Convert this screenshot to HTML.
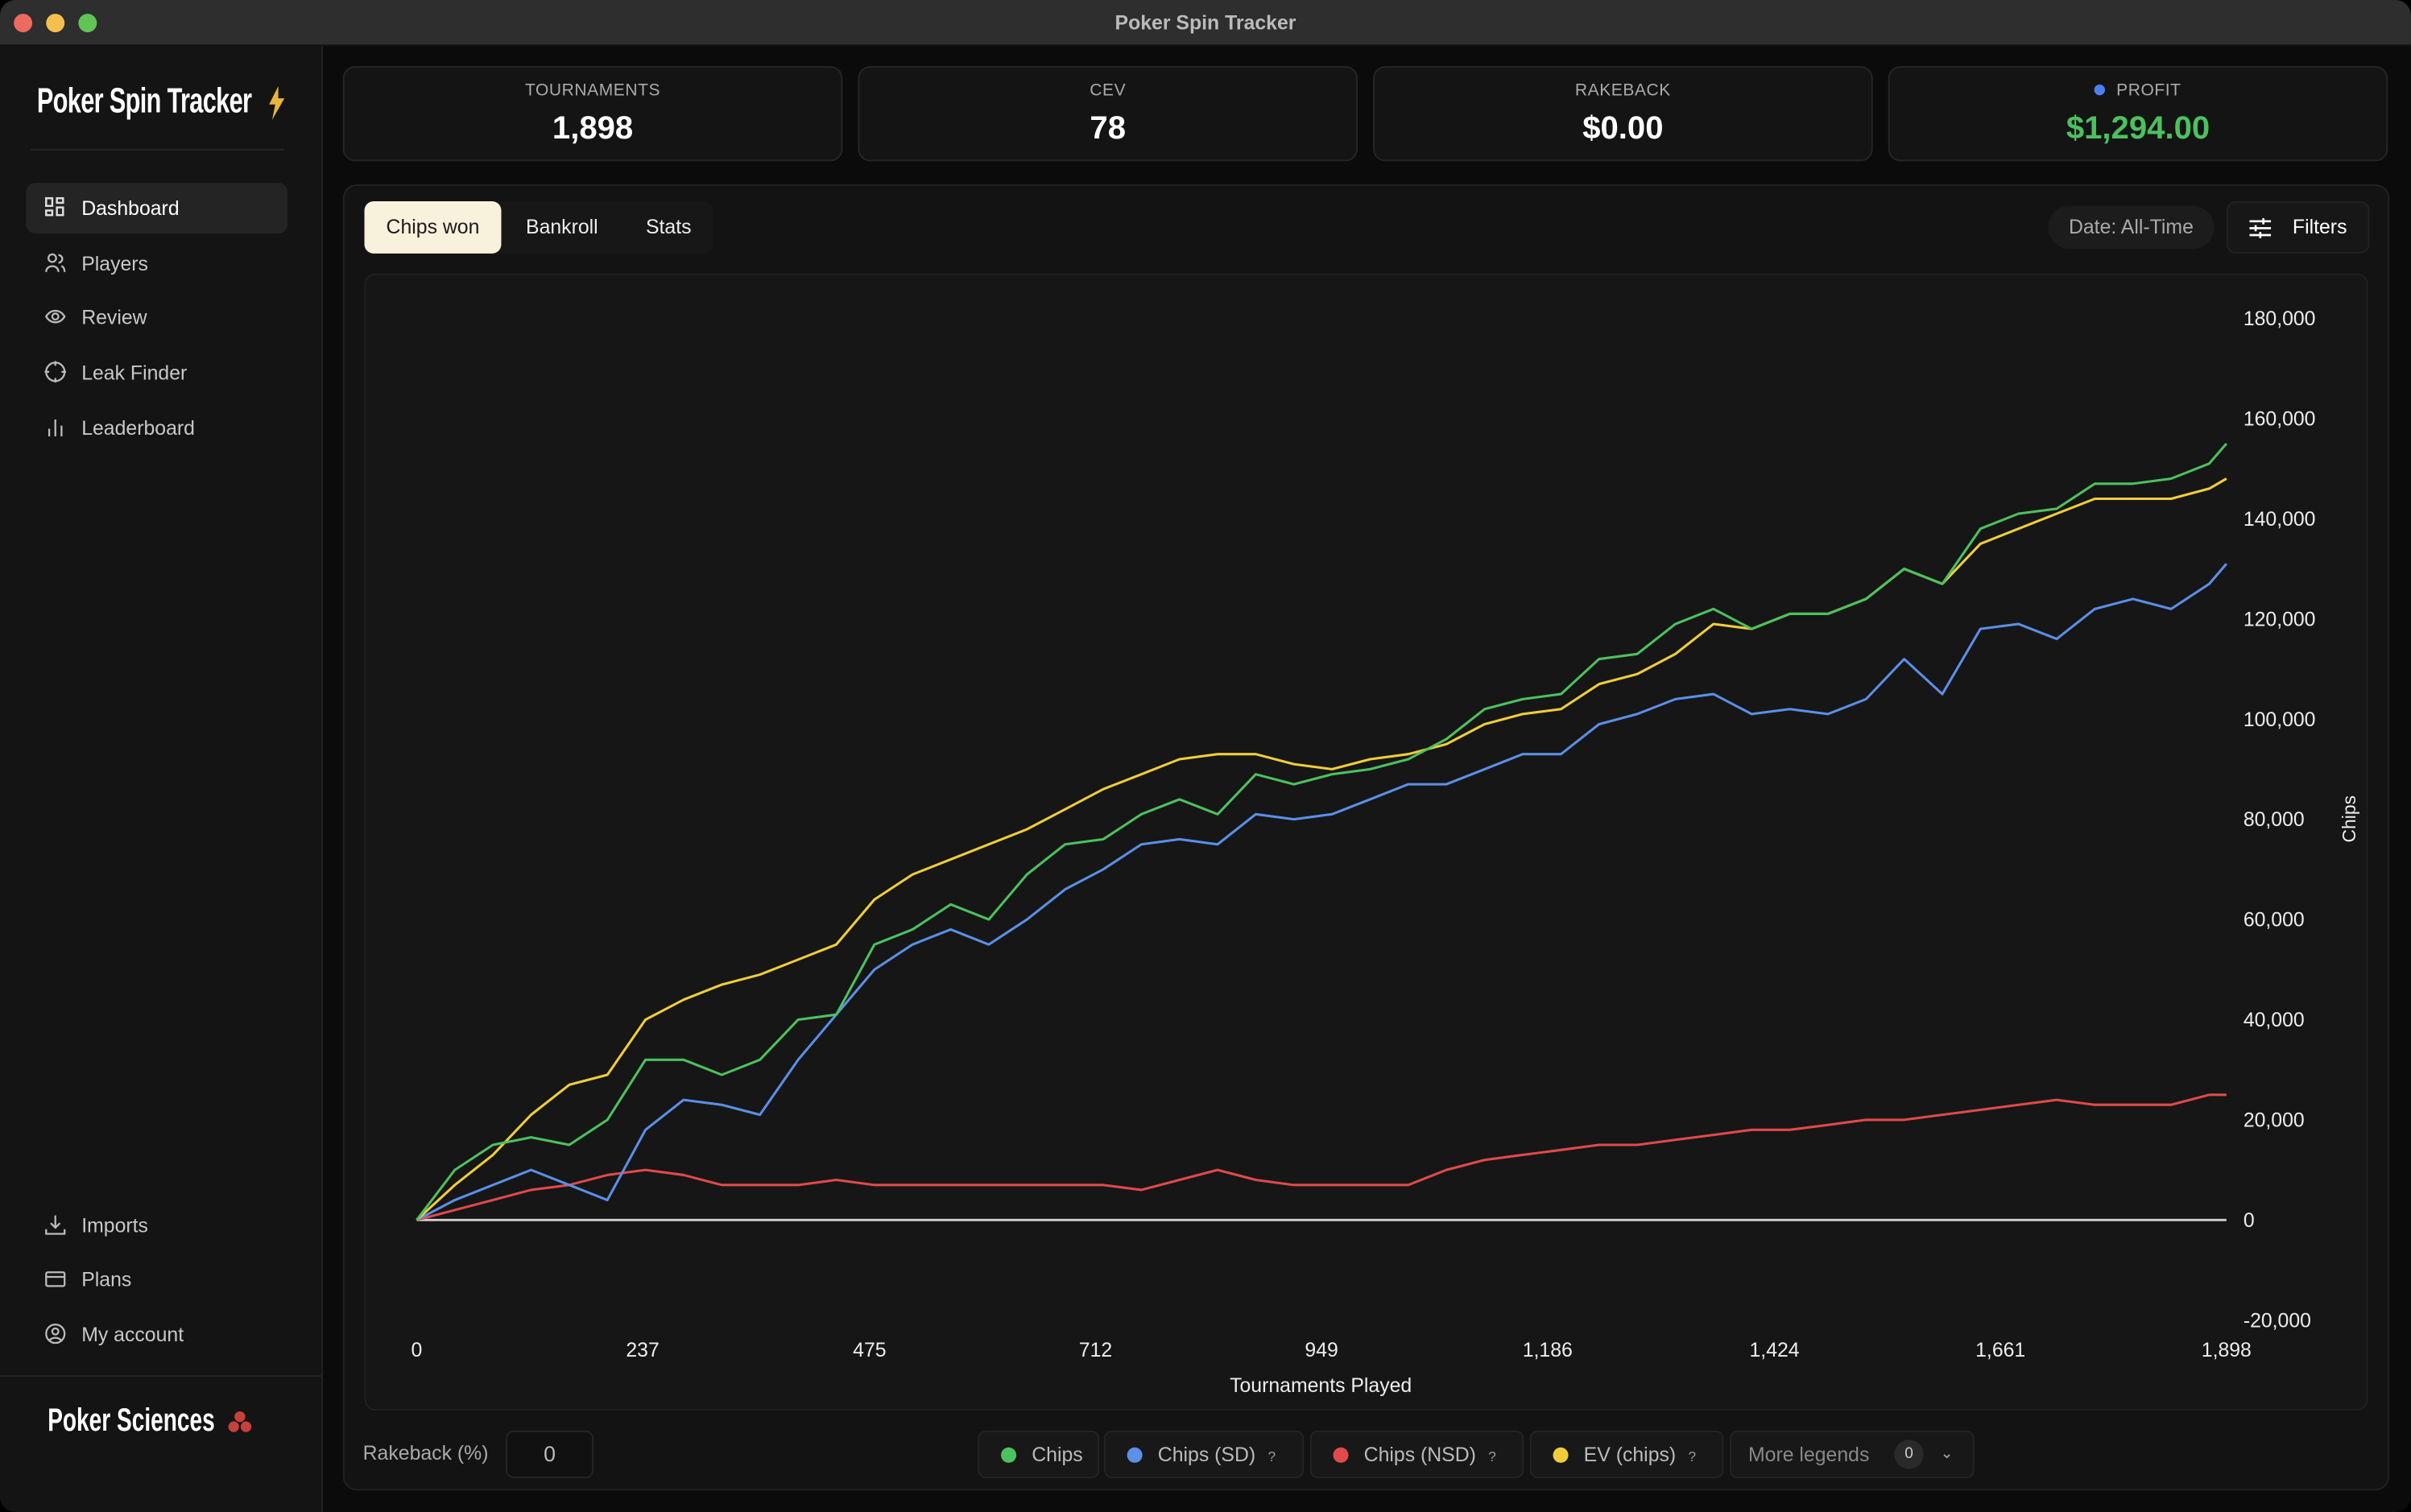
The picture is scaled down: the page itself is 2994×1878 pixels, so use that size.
<!DOCTYPE html>
<html><head><meta charset="utf-8">
<style>
html,body{margin:0;padding:0;background:#000;width:2994px;height:1878px;overflow:hidden}
#stage{position:absolute;left:0;top:0;width:1568px;height:984px;transform:scale(1.9094,1.9085);transform-origin:0 0;font-family:"Liberation Sans",sans-serif;color:#ddd}
.win{position:absolute;left:0;top:0;width:1568px;height:984px;border-radius:10px;overflow:hidden;background:#0b0b0b}
.titlebar{position:absolute;left:0;top:0;width:1568px;height:29px;background:#2e2e2e;border-bottom:1px solid #111;text-align:center;line-height:29px;font-size:13px;font-weight:bold;color:#bbb}
.dot{position:absolute;top:9px;width:12px;height:12px;border-radius:50%}
.side{position:absolute;left:0;top:30px;width:209px;height:954px;background:#141414;border-right:1px solid #222}
.abs{position:absolute}
.nav{position:absolute;left:17px;width:170px;height:33px;border-radius:6px;font-size:13px;color:#c8c8c8;line-height:33px}
.nav .ic{position:absolute;left:12px;top:9px;width:14px;height:14px}
.nav span{position:absolute;left:36px}
.card{position:absolute;top:43px;height:62px;width:325px;background:#141414;border:1px solid #262626;border-radius:8px;box-sizing:border-box;text-align:center}
.card .l{position:absolute;top:9px;left:0;right:0;font-size:11px;color:#aaa;letter-spacing:.3px}
.card .v{position:absolute;top:28px;left:0;right:0;font-size:21px;font-weight:bold;color:#fff}
.leg{position:absolute;top:931px;height:31px;background:#181818;border:1px solid #242424;border-radius:5px;box-sizing:border-box;font-size:13px;color:#bbb;line-height:29px}
.leg i{position:absolute;top:10px;width:10px;height:10px;border-radius:50%}
.q{font-size:9px;color:#999;margin-left:8px}
</style></head><body>
<div id="stage">
<div class="win">
 <div class="titlebar">Poker Spin Tracker
  <div class="dot" style="left:9px;background:#ed6a5e"></div>
  <div class="dot" style="left:30px;background:#f4bf4f"></div>
  <div class="dot" style="left:51px;background:#61c554"></div>
 </div>
 <div class="side">
  <div class="abs" style="left:24px;top:22px;font-size:23px;font-weight:bold;color:#fff;transform:scaleX(0.7);transform-origin:0 0;letter-spacing:-0.5px;white-space:nowrap">Poker Spin Tracker</div>
  <svg class="abs" style="left:174px;top:26px" width="12" height="22" viewBox="0 0 12 22"><path d="M7 0 L1 12 L5 12 L3 22 L11 8 L7 8 Z" fill="#e8b53a"/></svg>
  <div class="abs" style="left:20px;top:67px;width:165px;height:1px;background:#262626"></div>
  <div class="nav" style="top:89px;background:#242424;color:#fff"><svg class="ic" viewBox="0 0 14 14" fill="none" stroke="#ddd" stroke-width="1.3"><rect x="1" y="1" width="4" height="5"/><rect x="8" y="1" width="4" height="3"/><rect x="1" y="9" width="4" height="3"/><rect x="8" y="7" width="4" height="5"/></svg><span>Dashboard</span></div>
  <div class="nav" style="top:125px"><svg class="ic" viewBox="0 0 14 14" fill="none" stroke="#bbb" stroke-width="1.2"><circle cx="5" cy="4" r="2.5"/><path d="M1 13 C1 8 9 8 9 13"/><path d="M9 2 A2.5 2.5 0 0 1 9 7 M11 9 C12.5 10 13 11 13 13"/></svg><span>Players</span></div>
  <div class="nav" style="top:160px"><svg class="ic" viewBox="0 0 14 14" fill="none" stroke="#bbb" stroke-width="1.2"><path d="M1 7 C4 2 10 2 13 7 C10 12 4 12 1 7Z"/><circle cx="7" cy="7" r="2"/></svg><span>Review</span></div>
  <div class="nav" style="top:196px"><svg class="ic" viewBox="0 0 14 14" fill="none" stroke="#bbb" stroke-width="1.2"><circle cx="7" cy="7" r="6"/><path d="M7 0v3M7 11v3M0 7h3M11 7h3"/></svg><span>Leak Finder</span></div>
  <div class="nav" style="top:232px"><svg class="ic" viewBox="0 0 14 14" fill="none" stroke="#bbb" stroke-width="1.2"><path d="M3 13V8M7 13V2M11 13V6"/></svg><span>Leaderboard</span></div>
  <div class="nav" style="top:751px"><svg class="ic" viewBox="0 0 14 14" fill="none" stroke="#bbb" stroke-width="1.2"><path d="M7 1v8M4 6l3 3 3-3M1 10v3h12v-3"/></svg><span>Imports</span></div>
  <div class="nav" style="top:786px"><svg class="ic" viewBox="0 0 14 14" fill="none" stroke="#bbb" stroke-width="1.2"><rect x="1" y="3" width="12" height="9" rx="1"/><path d="M1 6h12"/></svg><span>Plans</span></div>
  <div class="nav" style="top:822px"><svg class="ic" viewBox="0 0 14 14" fill="none" stroke="#bbb" stroke-width="1.2"><circle cx="7" cy="7" r="6"/><circle cx="7" cy="5.5" r="2"/><path d="M3 11.5 C5 9 9 9 11 11.5"/></svg><span>My account</span></div>
  <div class="abs" style="left:0;top:865px;width:209px;height:1px;background:#232323"></div>
  <div class="abs" style="left:31px;top:883px;font-size:21px;font-weight:bold;color:#fff;transform:scaleX(0.7);transform-origin:0 0;white-space:nowrap">Poker Sciences</div>
  <svg class="abs" style="left:147px;top:887px" width="18" height="18" viewBox="0 0 18 18"><circle cx="9" cy="5" r="3.5" fill="#c8403c"/><circle cx="5" cy="11.5" r="3.5" fill="#c8403c"/><circle cx="13" cy="11.5" r="3.5" fill="#c8403c"/></svg>
 </div>

 <div class="card" style="left:223px"><div class="l">TOURNAMENTS</div><div class="v">1,898</div></div>
 <div class="card" style="left:558px"><div class="l">CEV</div><div class="v">78</div></div>
 <div class="card" style="left:893px"><div class="l">RAKEBACK</div><div class="v">$0.00</div></div>
 <div class="card" style="left:1228px"><div class="l"><span style="display:inline-block;width:7px;height:7px;border-radius:50%;background:#4d7ff0;margin-right:7px"></span>PROFIT</div><div class="v" style="color:#4cc15f">$1,294.00</div></div>

 <div class="abs" style="left:223px;top:120px;width:1331px;height:850px;background:#131313;border:1px solid #222;border-radius:9px;box-sizing:border-box"></div>
 <div class="abs" style="left:237px;top:131px;width:227px;height:34px;background:#171717;border-radius:6px"></div>
 <div class="abs" style="left:237px;top:131px;width:89px;height:34px;background:#f8f1dc;border-radius:6px;color:#1a1a1a;font-size:13px;line-height:34px;text-align:center">Chips won</div>
 <div class="abs" style="left:342px;top:131px;font-size:13px;line-height:34px;color:#eee">Bankroll</div>
 <div class="abs" style="left:420px;top:131px;font-size:13px;line-height:34px;color:#eee">Stats</div>
 <div class="abs" style="left:1332px;top:134px;width:108px;height:28px;background:#1c1c1c;border-radius:14px;font-size:13px;line-height:28px;text-align:center;color:#aaa">Date: All-Time</div>
 <div class="abs" style="left:1448px;top:131px;width:93px;height:34px;background:#171717;border:1px solid #222;border-radius:6px;box-sizing:border-box;font-size:13px;line-height:32px;color:#fff"><svg style="position:absolute;left:14px;top:10px" width="14" height="13" viewBox="0 0 14 13" stroke="#fff" stroke-width="1.4"><path d="M0 2h14M0 6.5h14M0 11h14"/><path d="M9 0v4M4 4.5v4M7 9v4"/></svg><span style="position:absolute;left:42px">Filters</span></div>

 <div class="abs" style="left:237px;top:178px;width:1303px;height:740px;background:#161616;border:1px solid #202020;border-radius:7px;box-sizing:border-box"></div>
 <svg id="chart" class="abs" style="left:0;top:0" width="1568" height="984"></svg>

 <div class="abs" style="left:236px;top:938px;font-size:13px;color:#aaa">Rakeback (%)</div>
 <div class="abs" style="left:329px;top:931px;width:57px;height:31px;border:1px solid #262626;border-radius:5px;box-sizing:border-box;background:#111;font-size:14px;line-height:29px;text-align:center;color:#bbb">0</div>
 <div class="leg" style="left:636px;width:79px"><i style="left:14px;background:#4cc15f"></i><span style="position:absolute;left:34px">Chips</span></div>
 <div class="leg" style="left:718px;width:130px"><i style="left:14px;background:#5b8fe8"></i><span style="position:absolute;left:34px">Chips (SD)<span class="q">?</span></span></div>
 <div class="leg" style="left:852px;width:139px"><i style="left:14px;background:#e04a4a"></i><span style="position:absolute;left:34px">Chips (NSD)<span class="q">?</span></span></div>
 <div class="leg" style="left:995px;width:126px"><i style="left:14px;background:#f0cd3a"></i><span style="position:absolute;left:34px">EV (chips)<span class="q">?</span></span></div>
 <div class="leg" style="left:1125px;width:159px;color:#888"><span style="position:absolute;left:11px">More legends</span><span style="position:absolute;left:106px;top:5px;width:19px;height:19px;border-radius:50%;background:#2a2a2a;color:#ccc;font-size:10px;line-height:19px;text-align:center">0</span><span style="position:absolute;left:136px;color:#aaa;font-size:10px">&#8964;</span></div>
</div>
</div>
<script>
const tournaments=[0,40,80,120,160,200,240,280,320,360,400,440,480,520,560,600,640,680,720,760,800,840,880,920,960,1000,1040,1080,1120,1160,1200,1240,1280,1320,1360,1400,1440,1480,1520,1560,1600,1640,1680,1720,1760,1800,1840,1880,1898];
const chips=[0,10000,15000,16500,15000,20000,32000,32000,29000,32000,40000,41000,55000,58000,63000,60000,69000,75000,76000,81000,84000,81000,89000,87000,89000,90000,92000,96000,102000,104000,105000,112000,113000,119000,122000,118000,121000,121000,124000,130000,127000,138000,141000,142000,147000,147000,148000,151000,155000];
const chipsSD=[0,4000,7000,10000,7000,4000,18000,24000,23000,21000,32000,41000,50000,55000,58000,55000,60000,66000,70000,75000,76000,75000,81000,80000,81000,84000,87000,87000,90000,93000,93000,99000,101000,104000,105000,101000,102000,101000,104000,112000,105000,118000,119000,116000,122000,124000,122000,127000,131000];
const chipsNSD=[0,2000,4000,6000,7000,9000,10000,9000,7000,7000,7000,8000,7000,7000,7000,7000,7000,7000,7000,6000,8000,10000,8000,7000,7000,7000,7000,10000,12000,13000,14000,15000,15000,16000,17000,18000,18000,19000,20000,20000,21000,22000,23000,24000,23000,23000,23000,25000,25000];
const evChips=[0,7000,13000,21000,27000,29000,40000,44000,47000,49000,52000,55000,64000,69000,72000,75000,78000,82000,86000,89000,92000,93000,93000,91000,90000,92000,93000,95000,99000,101000,102000,107000,109000,113000,119000,118000,121000,121000,124000,130000,127000,135000,138000,141000,144000,144000,144000,146000,148000];
const yTicks=[-20000,0,20000,40000,60000,80000,100000,120000,140000,160000,180000];
const xTicks=[0,237,475,712,949,1186,1424,1661,1898];

const NS='http://www.w3.org/2000/svg';
const svg=document.getElementById('chart');
const X0=271,X1=1448,Y0=794,YPX=65.2/20000,XMAX=1898;
function xs(t){return X0+(X1-X0)*t/XMAX;}
function ys(v){return Y0-v*YPX;}
function fmt(n){return n.toLocaleString('en-US');}
function mk(tag,attrs){const e=document.createElementNS(NS,tag);for(const k in attrs)e.setAttribute(k,attrs[k]);svg.appendChild(e);return e;}

yTicks.forEach(v=>{
 const t=mk('text',{x:1459,y:ys(v)+4.5,fill:'#eee','font-size':13,'font-family':'Liberation Sans, sans-serif'});
 t.textContent=fmt(v);
 
 
});
xTicks.forEach(v=>{
 const t=mk('text',{x:xs(v),y:883,fill:'#eee','font-size':13,'text-anchor':'middle','font-family':'Liberation Sans, sans-serif'});
 t.textContent=fmt(v);
 
 
});
const xt=mk('text',{x:859,y:906,fill:'#eee','font-size':13,'text-anchor':'middle','font-family':'Liberation Sans, sans-serif'});
xt.textContent='Tournaments Played';


const yt=mk('text',{x:0,y:0,fill:'#eee','font-size':12,'text-anchor':'middle','font-family':'Liberation Sans, sans-serif',transform:'translate(1532,533) rotate(-90)'});
yt.textContent='Chips';


const zl=mk('line',{x1:X0,x2:X1,y1:ys(0),y2:ys(0),stroke:'#cfcfcf','stroke-width':1.5});



function series(vals,color,name){
 const d=vals.map((v,i)=>(i?'L':'M')+xs(tournaments[i]).toFixed(1)+' '+ys(v).toFixed(1)).join(' ');
 const p=mk('path',{d:d,fill:'none',stroke:color,'stroke-width':1.6,'stroke-linejoin':'round'});
 
 
}
series(chipsNSD,'#e04a4a','line-chips-nsd');
series(chipsSD,'#5b8fe8','line-chips-sd');
series(evChips,'#f0cd3a','line-ev-chips');
series(chips,'#4cc15f','line-chips');
</script>
</body></html>
